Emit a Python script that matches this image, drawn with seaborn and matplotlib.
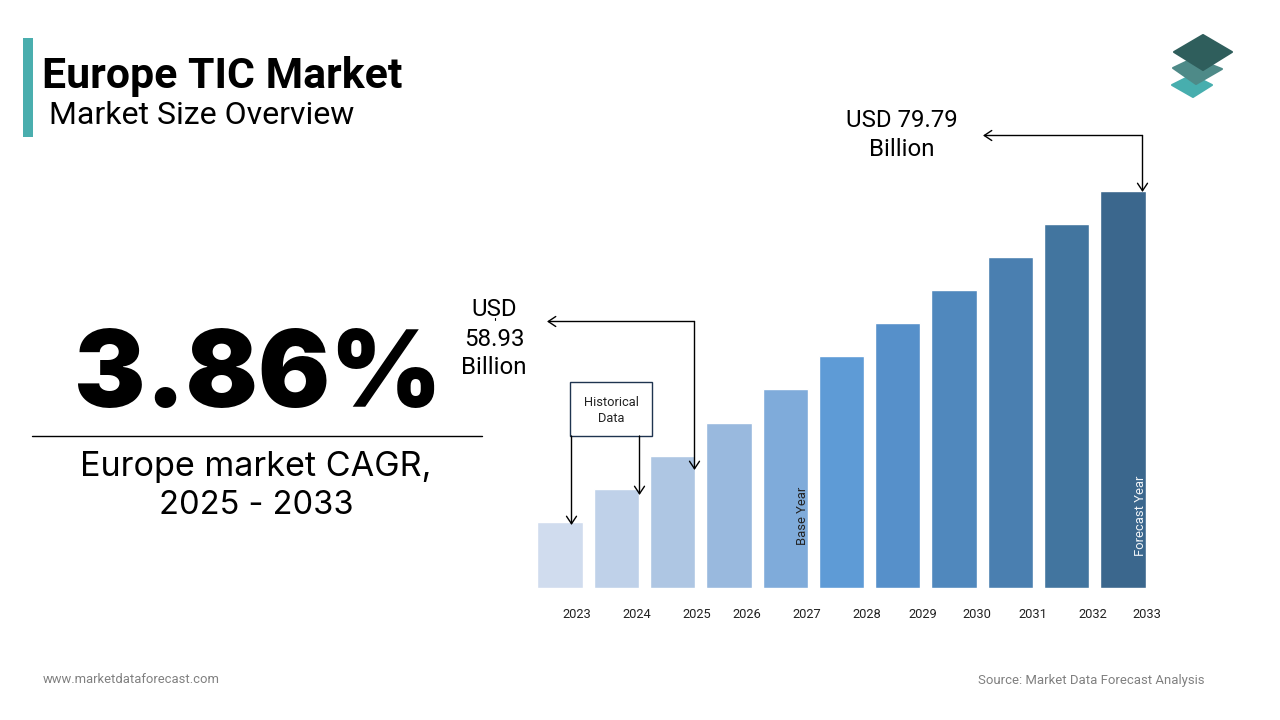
import pandas as pd
import seaborn as sns
import matplotlib.pyplot as plt
from matplotlib.patches import Polygon, Rectangle

years = ['2023', '2024', '2025', '2026', '2027', '2028', '2029', '2030', '2031', '2032', '2033']
# bars are drawn as even steps in the original, not to the USD values
bar_heights = [2, 3, 4, 5, 6, 7, 8, 9, 10, 11, 12]
bar_colors = ['#D0DCEE', '#BFD1E9', '#AEC6E3', '#99B9DE', '#7FABDA', '#5E9BD6',
              '#5690CA', '#5088BD', '#4A7FB0', '#42759F', '#3B678D']
year_label_x = [577, 637, 697, 747, 807, 867, 923, 977, 1033, 1093, 1147]

W, H = 1280, 720

sns.set_theme(style='white')
plt.rcParams['font.family'] = ['Roboto', 'DejaVu Sans']

fig = plt.figure(figsize=(12.8, 7.2), dpi=100)

# bar axes, placed in pixels
left, right, top, bottom = 531.8, 1151.2, 190.8, 588
ax = fig.add_axes([left / W, 1 - bottom / H, (right - left) / W, (bottom - top) / H])
df = pd.DataFrame({'year': years, 'height': bar_heights})
sns.barplot(data=df, x='year', y='height', hue='year', palette=bar_colors,
            saturation=1, width=0.805, legend=False, ax=ax)
ax.set_xlim(-0.5, 10.5)
ax.set_ylim(0, 12)
ax.axis('off')

# overlay in pixel coordinates for all the annotation
ov = fig.add_axes([0, 0, 1, 1], zorder=5)
ov.set_xlim(0, W)
ov.set_ylim(H, 0)
ov.axis('off')
ov.patch.set_alpha(0)

for x, y in zip(year_label_x, years):
    ov.text(x, 614, y, fontsize=9.3, ha='center', va='center', color='#222222')

# header
ov.add_patch(Rectangle((23, 38), 10, 99, color='#4AAEAE', lw=0))
ov.text(42, 76.5, 'Europe TIC Market', fontsize=30.8, fontweight='bold', ha='left', va='center', color='black')
ov.text(49, 115, 'Market Size Overview', fontsize=23, ha='left', va='center', color='black')

# big number block, geometric face in the original so Inter is the closest here
ov.text(258, 407, '3.86%', fontsize=77, fontweight='black', family=['Inter', 'Roboto'],
        ha='center', va='baseline', color='black')
ov.plot([32, 482], [436, 436], color='black', lw=1)
ov.text(256, 476, 'Europe market CAGR,', fontsize=24.6, family=['Inter', 'Roboto'], ha='center', va='baseline', color='black')
ov.text(256, 514, '2025 - 2033', fontsize=23.5, family=['Inter', 'Roboto'], ha='center', va='baseline', color='black')

# value labels
ov.text(494, 310, 'USD', fontsize=17.3, ha='center', va='center', color='black')
ov.text(494.5, 339, '58.93', fontsize=17.3, ha='center', va='center', color='black')
ov.text(494, 367.5, 'Billion', fontsize=17.3, ha='center', va='center', color='black')
ov.text(902, 120.5, 'USD 79.79', fontsize=17.3, ha='center', va='center', color='black')
ov.text(902, 149.5, 'Billion', fontsize=17.3, ha='center', va='center', color='black')
ov.plot([494.5, 494.5], [318, 320], color='black', lw=0.8)


def arrow(x0, y0, x1, y1):
    ov.annotate('', xy=(x1, y1), xytext=(x0, y0),
                arrowprops=dict(arrowstyle='->,head_length=0.45,head_width=0.3', color='black',
                                lw=1, shrinkA=0, shrinkB=0))


arrow(694.5, 321.5, 547, 321.5)
arrow(694.5, 321.5, 694.5, 470)
arrow(1142.5, 135.5, 983, 135.5)
arrow(1142.5, 135.5, 1142.5, 192)
arrow(571.5, 436, 571.5, 525)
arrow(639.5, 436, 639.5, 495)

# historical data box
ov.add_patch(Rectangle((570, 382), 82, 54, facecolor='white', edgecolor='#1F3450', lw=1))
ov.text(611, 402.5, 'Historical', fontsize=9.3, ha='center', va='center', color='#222222')
ov.text(611, 418.5, 'Data', fontsize=9.3, ha='center', va='center', color='#222222')

# rotated notes on bars
ov.text(802, 516, 'Base Year', fontsize=9.4, rotation=90, ha='center', va='center', color='#222222')
ov.text(1141, 516, 'Forecast Year', fontsize=9.4, rotation=90, ha='center', va='center', color='#F2F5F8')

# logo, three stacked diamonds
ov.add_patch(Polygon([(1172, 85), (1192, 75), (1212, 85), (1193, 97)], closed=True, color='#47AEAE', lw=1.5, joinstyle='round'))
ov.add_patch(Polygon([(1173, 68), (1194, 58), (1222, 69), (1196, 84)], closed=True, color='#4E8A88', lw=1.5, joinstyle='round'))
ov.add_patch(Polygon([(1174, 52), (1203, 35), (1232, 52), (1203, 70)], closed=True, color='#2F5E5C', lw=1.5, joinstyle='round'))

# footer
ov.text(43, 679.5, 'www.marketdataforecast.com', fontsize=9.4, ha='left', va='center', color='#808080')
ov.text(1204, 680.5, 'Source: Market Data Forecast Analysis', fontsize=9.45, ha='right', va='center', color='#808080')

fig.savefig('out.png', dpi=100)
